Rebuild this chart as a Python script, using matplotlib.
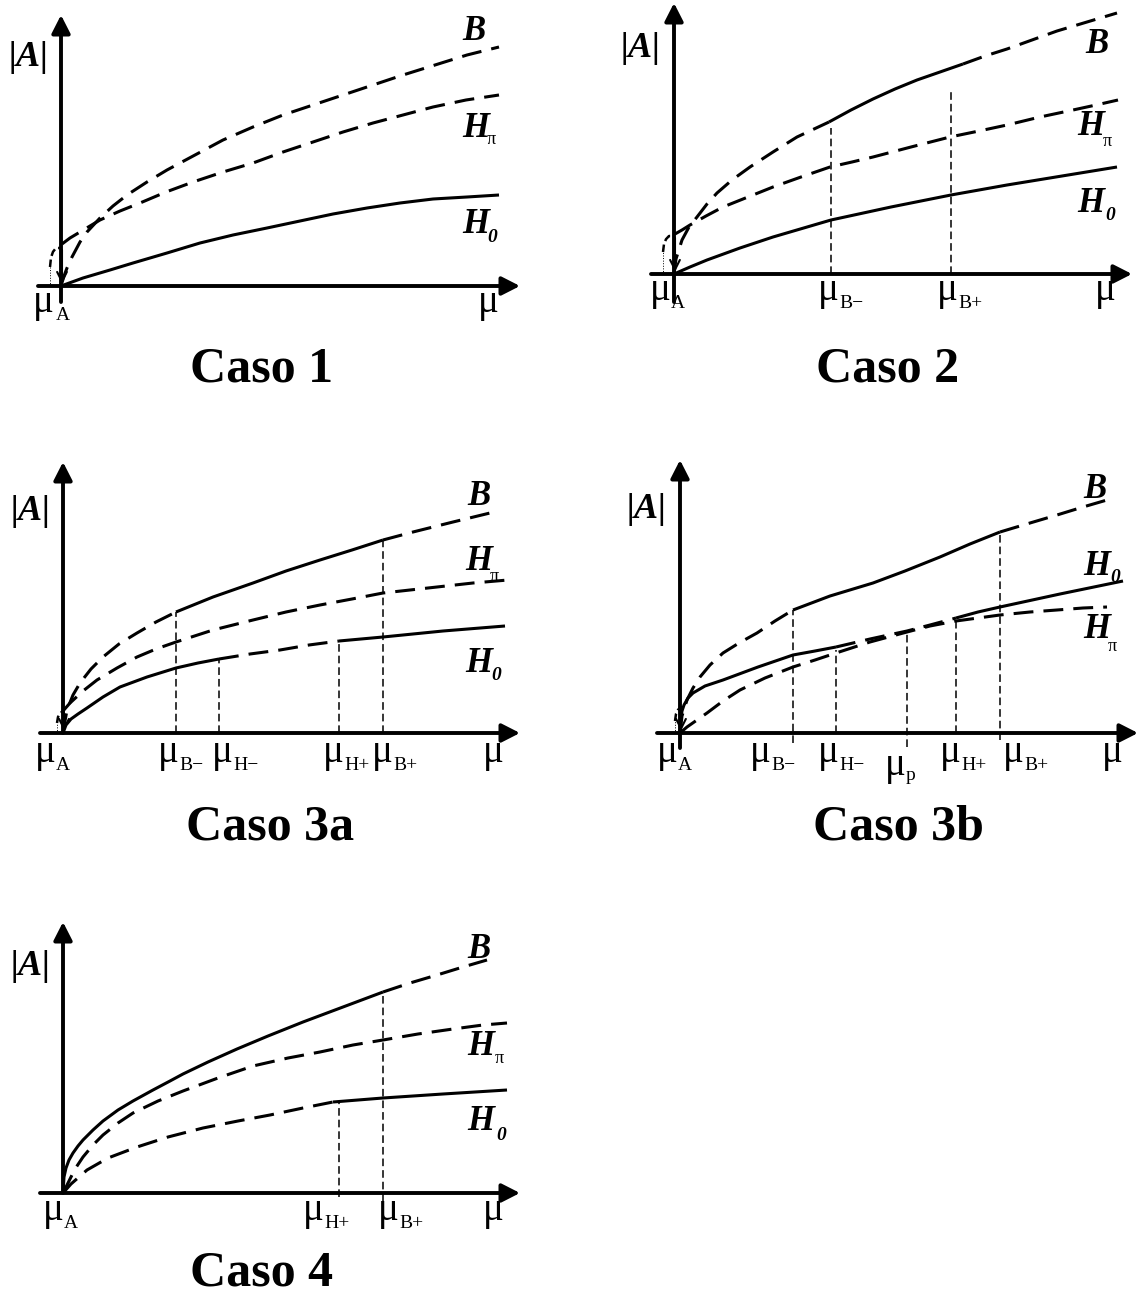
import matplotlib
matplotlib.use("Agg")
import matplotlib.pyplot as plt

# ---------------- data (relative to each panel's origin: mu to the right, |A| upward) ----------------
# Caso 1
C1_B_mu = [0, 3, 6, 11, 19, 26, 39, 52, 66, 86, 106, 134, 162, 192, 222, 252, 282, 312, 342, 374, 406, 438]
C1_B_amp = [0, 10, 18, 29, 44, 54, 68, 80, 91, 104, 116, 131, 146, 159, 171, 181, 191, 201, 211, 221, 231, 239]
C1_Hpi_mu = [1, 9, 24, 39, 59, 79, 105, 132, 162, 192, 222, 252, 282, 312, 342, 372, 405, 438]
C1_Hpi_amp = [42, 48, 57, 66, 75, 83, 94, 104, 114, 123, 134, 144, 154, 163, 171, 179, 186, 191]
C1_H0_mu = [0, 22, 49, 72, 106, 139, 172, 206, 239, 272, 306, 339, 372, 406, 438]
C1_H0_amp = [0, 8, 16, 23, 33, 43, 51, 58, 65, 72, 78, 83, 87, 89, 91]

# Caso 2
C2_B_mu = [0, 2, 8, 15, 23, 33, 43, 58, 76, 99, 123, 155, 177, 199, 221, 243, 266, 289,
           311, 333, 358, 383, 413, 443]
C2_B_amp = [0, 15, 34, 47, 57, 70, 81, 94, 107, 122, 137, 152, 164, 175, 185, 194, 202, 210,
            218, 225, 234, 243, 252, 261]
C2_B_style = [(0, 11, "--"), (11, 17, "-"), (17, 23, "--")]
C2_Hpi_mu = [1, 8, 16, 32, 49, 74, 99, 127, 156, 178, 199, 237, 276, 305, 333, 366, 399, 422, 444]
C2_Hpi_amp = [40, 44, 49, 58, 67, 77, 87, 97, 107, 112, 117, 127, 137, 143, 149, 157, 164, 169, 174]
C2_H0_mu = [0, 16, 33, 66, 99, 157, 217, 277, 333, 388, 443]
C2_H0_amp = [0, 7, 14, 26, 37, 54, 67, 79, 89, 98, 107]
C2_marks = [157, 277]
C2_mark_tops = [146, 182]
C2_mark_labels = ["B\u2212", "B+"]

# Caso 3a
C3a_B_mu = [0, 2, 4, 10, 17, 28, 40, 56, 74, 93, 113, 150, 190, 223, 257, 289, 320, 350, 390, 427]
C3a_B_amp = [0, 12, 23, 38, 50, 64, 76, 89, 100, 111, 121, 136, 150, 162, 173, 183, 193, 201, 211, 220]
C3a_B_style = [(0, 10, "--"), (10, 16, "-"), (16, 19, "--")]
C3a_Hpi_mu = [0, 7, 20, 34, 54, 74, 93, 113, 150, 190, 223, 257, 289, 320, 347, 374, 410, 445]
C3a_Hpi_amp = [22, 30, 42, 53, 65, 76, 84, 91, 103, 113, 121, 128, 134, 140, 143, 146, 150, 153]
C3a_H0_mu = [0, 3, 8, 15, 24, 40, 57, 84, 113, 135, 156, 187, 217, 246, 276, 320, 380, 442]
C3a_H0_amp = [0, 8, 14, 19, 25, 36, 46, 56, 65, 70, 74, 79, 83, 88, 92, 96, 102, 107]
C3a_H0_style = [(0, 10, "-"), (10, 14, "--"), (14, 17, "-")]
C3a_marks = [113, 156, 276, 320]
C3a_mark_tops = [121, 75, 91, 193]
C3a_mark_labels = ["B\u2212", "H\u2212", "H+", "B+"]

# Caso 3b
C3b_B_mu = [0, 2, 7, 13, 20, 30, 43, 59, 77, 95, 113, 150, 193, 225, 260, 290, 320, 350, 377, 403, 427]
C3b_B_amp = [0, 17, 33, 45, 56, 68, 80, 90, 100, 112, 123, 137, 150, 162, 176, 189, 201, 210, 218, 226, 233]
C3b_B_style = [(0, 10, "--"), (10, 16, "-"), (16, 20, "--")]
C3b_H0_mu = [0, 0.5, 1, 2, 4, 8, 13, 25, 43, 78, 113, 135, 156, 190, 227, 250, 276, 298, 320, 380, 443]
C3b_H0_amp = [0, 8, 15, 22, 28, 35, 40, 47, 53, 66, 78, 82, 86, 94, 102, 108, 115, 121, 126, 139, 152]
C3b_H0_style = [(0, 12, "-"), (12, 16, "--"), (16, 20, "-")]
C3b_Hpi_mu = [0, 7, 17, 27, 43, 60, 85, 113, 135, 156, 190, 227, 250, 276, 298, 320, 350, 377, 403, 427]
C3b_Hpi_amp = [0, 6, 13, 20, 32, 43, 55, 66, 73, 80, 91, 101, 107, 112, 115, 118, 121, 123, 125, 126]
C3b_marks = [113, 156, 227, 276, 320]
C3b_mark_tops = [123, 83, 103, 115, 201]
C3b_mark_bottoms = [-10, 0, -14, 0, -7]
C3b_mark_labels = ["B\u2212", "H\u2212", "p", "H+", "B+"]

# Caso 4
C4_B_mu = [0, 0.5, 1, 3, 6, 10, 15, 20, 30, 40, 55, 70, 90, 107, 120, 145, 174, 205, 240, 280,
           320, 347, 374, 400, 424]
C4_B_amp = [0, 8, 16, 25, 33, 40, 47, 53, 63, 72, 83, 92, 103, 112, 119, 131, 144, 157, 171, 186,
            201, 210, 218, 226, 233]
C4_B_style = [(0, 20, "-"), (20, 24, "--")]
C4_Hpi_mu = [0, 3, 6, 12, 20, 30, 40, 55, 70, 95, 120, 155, 190, 225, 257, 290, 320, 355, 390, 420, 444]
C4_Hpi_amp = [0, 6, 12, 24, 36, 48, 58, 70, 80, 92, 102, 115, 127, 135, 141, 148, 153, 159, 164, 168, 170]
C4_H0_mu = [0, 8, 16, 24, 45, 74, 105, 140, 175, 207, 240, 270, 295, 320, 380, 444]
C4_H0_amp = [0, 9, 16, 23, 35, 46, 56, 65, 72, 78, 85, 91, 93, 95, 99, 103]
C4_H0_style = [(0, 11, "--"), (11, 15, "-")]
C4_marks = [276, 320]
C4_mark_tops = [90, 201]
C4_mark_labels = ["H+", "B+"]

# ---------------- styling / layout ----------------
W, H = 1142, 1297
fig = plt.figure(figsize=(W / 100, H / 100), dpi=100)
SERIF = ["Liberation Serif", "DejaVu Serif"]
DASH = (0, (6.5, 3.3))
LW = 2.2


def make_ax(ox, oy):
    x0, x1, y0, y1 = -50, 470, -60, 290
    ax = fig.add_axes([(ox + x0) / W, 1 - (oy - y0) / H, (x1 - x0) / W, (y1 - y0) / H])
    ax.set_xlim(x0, x1)
    ax.set_ylim(y0, y1)
    ax.axis("off")
    return ax


def axes_arrows(ax, ybot=0, ytip=271, xtip=458):
    ap = dict(arrowstyle="-|>,head_length=0.55,head_width=0.28", lw=2.8, color="k",
              mutation_scale=20, shrinkA=0, shrinkB=0)
    ax.annotate("", xy=(xtip, 0), xytext=(-23, 0), arrowprops=ap)
    ax.annotate("", xy=(0, ytip), xytext=(0, ybot), arrowprops=ap)


def curve(ax, mu, amp, style=None):
    if style is None:
        style = [(0, len(mu) - 1, "--")]
    for i0, i1, ls in style:
        ax.plot(mu[i0:i1 + 1], amp[i0:i1 + 1], color="k", lw=LW,
                ls=DASH if ls == "--" else "-", solid_capstyle="butt",
                dash_capstyle="butt", solid_joinstyle="round", clip_on=False)


def marks(ax, xs, tops, bottoms=None):
    if bottoms is None:
        bottoms = [0] * len(xs)
    for x, t, b in zip(xs, tops, bottoms):
        ax.plot([x, x], [b, t], color="k", lw=1.1, ls=(0, (5, 2.6)), clip_on=False)


def hook(ax, xd, yd, top):
    ax.plot([xd, xd], [0, yd], color="k", lw=0.7, ls=":", clip_on=False)
    ax.plot([xd, xd + 1, xd + 3, xd + 6, 0], [yd, yd + (top - yd) * 0.5, yd + (top - yd) * 0.8,
                                             top, top], color="k", lw=1.8, ls=(0, (3, 1.5)), clip_on=False)
    ax.annotate("", xy=(1, 2), xytext=(1, top - 2),
                arrowprops=dict(arrowstyle="->,head_length=0.5,head_width=0.25", lw=1.5,
                                color="k", mutation_scale=14, shrinkA=0, shrinkB=0))


def clabel(ax, x, y, main, sub, sx, sy, sub_italic):
    ax.text(x, y, main, fontsize=25, fontweight="bold", fontstyle="italic",
            family=SERIF, ha="left", va="baseline")
    if sub:
        ax.text(sx, sy, sub, fontsize=13 if not sub_italic else 14,
                fontweight="bold" if sub_italic else "normal",
                fontstyle="italic" if sub_italic else "normal",
                family=SERIF, ha="left", va="baseline")


def ylabel(ax, x, y):
    ax.text(x, y, "|A|", fontsize=26, fontweight="bold", fontstyle="italic",
            family=SERIF, ha="center", va="baseline")


def mulabel(ax, x, y, sub, subx, suby):
    ax.text(x, y, "\u03bc", fontsize=28, family=SERIF, ha="center", va="baseline")
    if sub:
        ax.text(subx, suby, sub, fontsize=14, family=SERIF, ha="left", va="baseline")


def caso(cx, base, txt):
    fig.text(cx / W, 1 - base / H, txt, fontsize=36, fontweight="bold",
             family=SERIF, ha="center", va="baseline")


# ---------------- Caso 1 ----------------
ax = make_ax(61, 286)
axes_arrows(ax, ybot=-16, ytip=271, xtip=459)
curve(ax, C1_B_mu, C1_B_amp)
curve(ax, C1_Hpi_mu, C1_Hpi_amp)
curve(ax, C1_H0_mu, C1_H0_amp, [(0, len(C1_H0_mu) - 1, "-")])
hook(ax, -11, 19, 38)
ylabel(ax, -32, 220)
clabel(ax, 401, 246, "B", "", 0, 0, False)
clabel(ax, 401, 149, "H", "\u03c0", 426, 142, False)
clabel(ax, 401, 53, "H", "0", 426, 44, True)
mulabel(ax, -18, -26, "A", -5, -34)
mulabel(ax, 427, -26, "", 0, 0)
caso(262, 382, "Caso 1")

# ---------------- Caso 2 ----------------
ax = make_ax(674, 274)
axes_arrows(ax, ybot=-28, ytip=271, xtip=458)
marks(ax, C2_marks, C2_mark_tops)
curve(ax, C2_B_mu, C2_B_amp, C2_B_style)
curve(ax, C2_Hpi_mu, C2_Hpi_amp)
curve(ax, C2_H0_mu, C2_H0_amp, [(0, len(C2_H0_mu) - 1, "-")])
hook(ax, -11, 22, 38)
ylabel(ax, -33, 217)
clabel(ax, 411, 221, "B", "", 0, 0, False)
clabel(ax, 403, 139, "H", "\u03c0", 429, 128, False)
clabel(ax, 403, 62, "H", "0", 431, 54, True)
mulabel(ax, -14, -26, "A", -3, -34)
for x, sx, lab in zip([154, 273], [165, 284], C2_mark_labels):
    mulabel(ax, x, -26, lab, sx, -34)
mulabel(ax, 431, -26, "", 0, 0)
caso(888, 382, "Caso 2")

# ---------------- Caso 3a ----------------
ax = make_ax(63, 733)
axes_arrows(ax, ybot=0, ytip=271, xtip=457)
marks(ax, C3a_marks, C3a_mark_tops)
curve(ax, C3a_B_mu, C3a_B_amp, C3a_B_style)
curve(ax, C3a_Hpi_mu, C3a_Hpi_amp)
curve(ax, C3a_H0_mu, C3a_H0_amp, C3a_H0_style)
hook(ax, -6, 10, 22)
ylabel(ax, -32, 213)
clabel(ax, 404, 228, "B", "", 0, 0, False)
clabel(ax, 402, 163, "H", "\u03c0", 427, 152, False)
clabel(ax, 402, 61, "H", "0", 428, 53, True)
mulabel(ax, -18, -29, "A", -7, -37)
for x, sx, lab in zip([105, 159, 270, 319], [116, 170, 281, 330], C3a_mark_labels):
    mulabel(ax, x, -29, lab, sx, -37)
mulabel(ax, 430, -29, "", 0, 0)
caso(270, 840, "Caso 3a")

# ---------------- Caso 3b ----------------
ax = make_ax(680, 733)
axes_arrows(ax, ybot=-15, ytip=273, xtip=458)
marks(ax, C3b_marks, C3b_mark_tops, C3b_mark_bottoms)
curve(ax, C3b_B_mu, C3b_B_amp, C3b_B_style)
curve(ax, C3b_H0_mu, C3b_H0_amp, C3b_H0_style)
curve(ax, C3b_Hpi_mu, C3b_Hpi_amp)
hook(ax, -5, 12, 26)
ylabel(ax, -33, 215)
clabel(ax, 403, 235, "B", "", 0, 0, False)
clabel(ax, 403, 158, "H", "0", 430, 151, True)
clabel(ax, 403, 95, "H", "\u03c0", 428, 82, False)
mulabel(ax, -13, -29, "A", -2, -37)
for x, sx, lab in zip([80, 148, 215, 270, 333], [91, 159, 226, 281, 344], C3b_mark_labels):
    if lab == "p":
        mulabel(ax, x, -42, lab, sx, -47)
    else:
        mulabel(ax, x, -29, lab, sx, -37)
mulabel(ax, 432, -29, "", 0, 0)
caso(898, 840, "Caso 3b")

# ---------------- Caso 4 ----------------
ax = make_ax(63, 1193)
axes_arrows(ax, ybot=0, ytip=271, xtip=457)
marks(ax, C4_marks, C4_mark_tops, [-4, -8])
curve(ax, C4_B_mu, C4_B_amp, C4_B_style)
curve(ax, C4_Hpi_mu, C4_Hpi_amp)
curve(ax, C4_H0_mu, C4_H0_amp, C4_H0_style)
ylabel(ax, -32, 218)
clabel(ax, 404, 235, "B", "", 0, 0, False)
clabel(ax, 404, 138, "H", "\u03c0", 432, 130, False)
clabel(ax, 404, 63, "H", "0", 433, 53, True)
mulabel(ax, -10, -27, "A", 1, -35)
for x, sx, lab in zip([250, 325], [261, 336], C4_mark_labels):
    mulabel(ax, x, -27, lab, sx, -35)
mulabel(ax, 430, -27, "", 0, 0)
caso(262, 1285, "Caso 4")

fig.savefig("out.png", dpi=100, facecolor="white")
